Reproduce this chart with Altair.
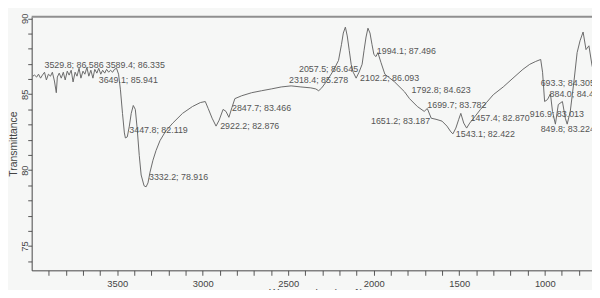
import altair as alt
import pandas as pd

# Traced spectrum (wavenumber cm-1, % transmittance)
wavenumber = [3994, 3983, 3971, 3960, 3948, 3937, 3925, 3914, 3902, 3890, 3879, 3867, 3856, 3850,
              3839, 3827, 3815, 3804, 3792, 3781, 3769, 3758, 3746, 3735, 3723, 3712, 3700, 3689,
              3677, 3666, 3654, 3642, 3631, 3619, 3608, 3596, 3585, 3573, 3562, 3550, 3539, 3527,
              3516, 3504, 3492, 3481, 3469, 3458, 3452, 3441, 3429, 3418, 3406, 3394, 3383, 3371,
              3360, 3343, 3331, 3320, 3308, 3291, 3273, 3250, 3216, 3175, 3118, 3060, 3014, 2985,
              2968, 2945, 2922, 2904, 2881, 2864, 2847, 2829, 2812, 2772, 2714, 2656, 2599, 2541,
              2483, 2426, 2368, 2339, 2322, 2304, 2270, 2235, 2206, 2189, 2178, 2166, 2155, 2143,
              2132, 2120, 2103, 2086, 2068, 2057, 2045, 2034, 2022, 2010, 1999, 1987, 1976, 1958,
              1935, 1878, 1820, 1791, 1745, 1705, 1687, 1664, 1636, 1601, 1572, 1549, 1537, 1520,
              1503, 1491, 1474, 1457, 1439, 1416, 1376, 1341, 1301, 1243, 1186, 1128, 1088, 1053,
              1024, 1013, 1001, 984, 967, 955, 938, 921, 897, 880, 869, 851, 828, 811,
              794, 776, 759, 742, 724, 710]
transmittance = [86.19, 86.26, 86.13, 86.32, 86.06, 86.26, 86.45, 85.94, 86.32, 86.19, 86.45, 85.87, 85.10, 86.13,
                 86.39, 86.06, 86.45, 85.94, 86.52, 86.26, 86.58, 85.81, 86.45, 86.19, 86.71, 86.06, 86.52, 86.32,
                 86.77, 86.19, 86.58, 86.06, 86.64, 86.39, 86.71, 86.32, 86.58, 86.39, 86.64, 86.45, 86.58, 86.45,
                 86.64, 86.71, 86.32, 85.29, 83.74, 82.45, 82.12, 82.19, 82.90, 83.74, 84.26, 84.00, 82.71, 80.97,
                 79.68, 78.97, 78.90, 79.16, 79.87, 80.65, 81.29, 81.94, 82.58, 83.10, 83.74, 84.19, 84.45, 84.52,
                 84.06, 83.42, 82.90, 83.29, 84.00, 83.87, 83.48, 84.13, 84.71, 84.90, 85.10, 85.23, 85.35, 85.48,
                 85.55, 85.48, 85.42, 85.35, 85.23, 85.42, 85.94, 86.58, 87.23, 88.26, 89.03, 89.42, 88.84, 87.87,
                 86.97, 86.45, 86.06, 86.45, 86.97, 87.87, 88.77, 89.35, 89.03, 88.26, 87.61, 87.48, 87.74, 87.10,
                 86.32, 85.81, 85.16, 84.71, 84.19, 83.87, 84.06, 83.42, 83.35, 83.23, 82.90, 82.52, 82.39, 82.77,
                 83.35, 83.74, 83.10, 82.77, 83.10, 83.42, 84.00, 84.45, 84.97, 85.48, 86.06, 86.64, 86.97, 87.16,
                 87.29, 86.45, 84.52, 84.65, 85.03, 83.87, 83.03, 84.32, 84.52, 83.42, 83.03, 83.87, 86.00, 87.74,
                 88.52, 89.10, 87.94, 88.19, 86.90, 86.30]

# Peak annotations (text and where the text sits, in data units)
label_text = ["3529.8; 86.586", "3589.4; 86.335", "3649.1; 85.941", "3447.8; 82.119", "3332.2; 78.916",
              "2922.2; 82.876", "2847.7; 83.466", "2318.4; 85.278", "2057.5; 86.645", "2102.2; 86.093",
              "1994.1; 87.496", "1792.8; 84.623", "1699.7; 83.782", "1651.2; 83.187", "1543.1; 82.422",
              "1457.4; 82.870", "693.3; 84.305", "884.0; 84.439", "916.9; 83.013", "849.8; 83.224"]
label_wn = [3925, 3567, 3608, 3429, 3314, 2898, 2829, 2495, 2437, 2080, 1982, 1779, 1687, 2016, 1520,
            1434, 1024, 972, 1088, 1024]
label_t = [86.90, 86.90, 85.94, 82.65, 79.55, 82.90, 84.06, 85.94, 86.64, 86.06, 87.87, 85.29, 84.32,
           83.23, 82.39, 83.42, 85.74, 85.03, 83.68, 82.71]

x_ticks = list(range(3900, 700, -100))
y_ticks = list(range(74, 91))

spec = pd.DataFrame({"wn": wavenumber, "t": transmittance, "i": range(len(wavenumber))})
labels = pd.DataFrame({"txt": label_text, "wn": label_wn, "t": label_t})

W, H = 568, 257
FONT = "Liberation Sans"

xscale = alt.Scale(domain=[724, 4000], reverse=True, nice=False, zero=False)
yscale = alt.Scale(domain=[73.4, 90.1], nice=False, zero=False)

line = alt.Chart(spec).mark_line(color="#6a6a6a", strokeWidth=1, clip=True).encode(
    x=alt.X("wn:Q", scale=xscale, title="Wavenumber (cm-1)",
            axis=alt.Axis(values=x_ticks, tickCount=len(x_ticks) + 5, format="d", grid=False,
                          labelExpr="datum.value % 500 == 0 ? datum.label : ''",
                          tickSize=5, labelPadding=3, labelFontSize=9.5, labelFont=FONT,
                          labelColor="#444", tickColor="#555", domainColor="#444",
                          titleFont=FONT, titleFontSize=10.5, titleFontWeight="normal",
                          titleColor="#444", titleX=288, titleY=19, titleBaseline="top",
                          labelFlush=False, labelOverlap=False)),
    y=alt.Y("t:Q", scale=yscale, title="Transmittance",
            axis=alt.Axis(values=y_ticks, tickCount=len(y_ticks) + 5, grid=False,
                          labelExpr="datum.value % 5 == 0 ? datum.label : ''",
                          tickSize=4, labelPadding=3, labelAngle=270, labelAlign="center",
                          labelBaseline="middle", labelFontSize=9.5, labelFont=FONT,
                          labelColor="#444", tickColor="#555", domainColor="#444",
                          titleFont=FONT, titleFontSize=10.5, titleFontWeight="normal",
                          titleColor="#444", titleAngle=270, titleX=-18, titleY=H / 2,
                          titleAlign="center", titleBaseline="middle",
                          labelFlush=False, labelOverlap=False)),
    order="i:Q",
)

text = alt.Chart(labels).mark_text(align="left", baseline="middle", fontSize=9, font=FONT,
                                   color="#555").encode(
    x=alt.X("wn:Q", scale=xscale),
    y=alt.Y("t:Q", scale=yscale),
    text="txt:N",
)

top = alt.Chart(pd.DataFrame({"a": [0]})).mark_rule(color="#8f8f8f", strokeWidth=2).encode(
    x=alt.value(0), x2=alt.value(W), y=alt.value(0)
)

chart = alt.layer(line, text, top).properties(
    width=W, height=H,
    autosize=alt.AutoSizeParams(type="none"),
    padding={"left": 24, "top": 7, "right": 0, "bottom": 18},
    background="#f6f7f6",
).configure_view(stroke=None)

chart.save("out.html", embed_options={"renderer": "svg", "actions": False})
